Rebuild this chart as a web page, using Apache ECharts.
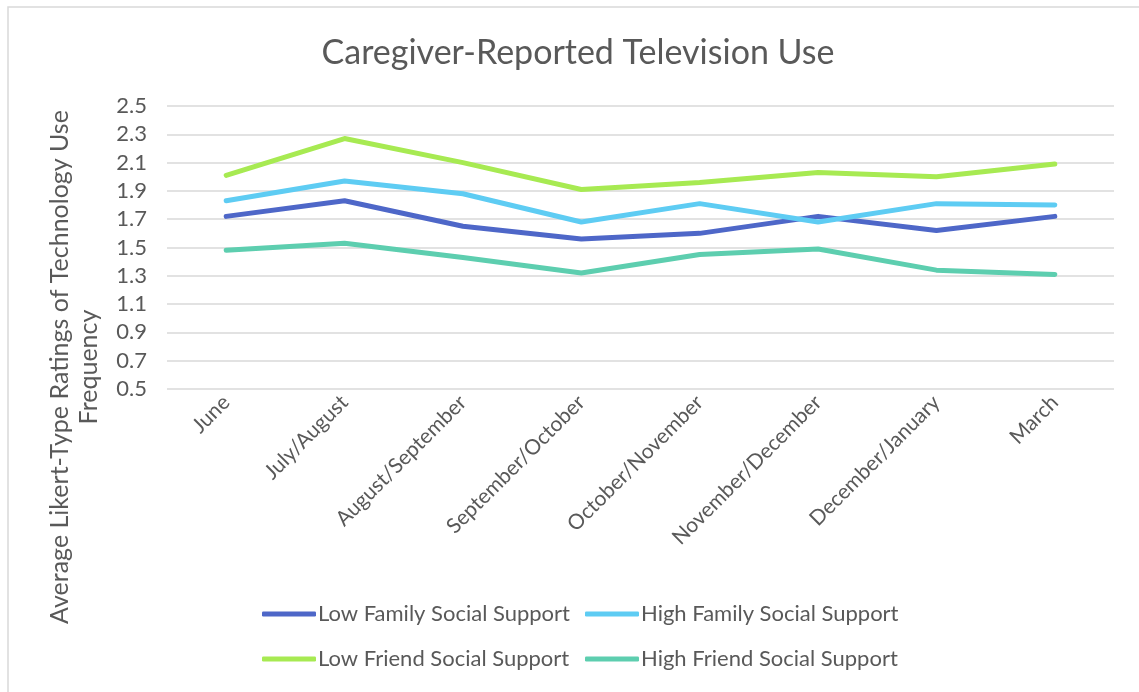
<!DOCTYPE html>
<html>
<head>
<meta charset="utf-8">
<script src="https://cdn.jsdelivr.net/npm/echarts@6/dist/echarts.min.js"></script>
<style>
  html, body { margin: 0; padding: 0; background: #ffffff; }
  #chart { width: 1139px; height: 692px; }
</style>
</head>
<body>
<div id="chart"></div>
<script>
// Survey waves along the x axis
const categories = [
  'June', 'July/August', 'August/September', 'September/October',
  'October/November', 'November/December', 'December/January', 'March'
];

// Average Likert-type ratings per support group
const lowFamily  = [1.72, 1.83, 1.65, 1.56, 1.60, 1.72, 1.62, 1.72];
const highFamily = [1.83, 1.97, 1.88, 1.68, 1.81, 1.68, 1.81, 1.80];
const lowFriend  = [2.01, 2.27, 2.10, 1.91, 1.96, 2.03, 2.00, 2.09];
const highFriend = [1.48, 1.53, 1.43, 1.32, 1.45, 1.49, 1.34, 1.31];

const seriesNames = [
  'Low Family Social Support', 'High Family Social Support',
  'Low Friend Social Support', 'High Friend Social Support'
];
const seriesData = [lowFamily, highFamily, lowFriend, highFriend];
const seriesColors = ['#4E67C8', '#5ECCF3', '#A7EA52', '#5DCEAF'];

// Value axis range and step
const yMin = 0.5;
const yMax = 2.5;
const yStep = 0.2;

const FONT = 'Lato, "Open Sans", sans-serif';
const TEXT = '#595959';

const chart = echarts.init(document.getElementById('chart'), null, { renderer: 'canvas' });

// Legend laid out as a 2 x 2 block under the plot
const legendSpots = [
  { left: 257, top: 598 },
  { left: 580, top: 598 },
  { left: 257, top: 643 },
  { left: 580, top: 643 }
];

const option = {
  backgroundColor: '#ffffff',
  animation: false,
  title: {
    text: 'Caregiver-Reported Television Use',
    left: 573,
    top: 31,
    textAlign: 'center',
    textStyle: { fontFamily: FONT, fontSize: 34, fontWeight: 'normal', color: TEXT }
  },
  grid: { left: 167, right: 25, top: 106, bottom: 303 },
  legend: seriesNames.map((name, i) => ({
    data: [name],
    left: legendSpots[i].left,
    top: legendSpots[i].top,
    orient: 'horizontal',
    icon: 'roundRect',
    itemWidth: 54,
    itemHeight: 5,
    itemGap: 0,
    selectedMode: false,
    textStyle: { fontFamily: FONT, fontSize: 22, color: TEXT, padding: [0, 0, 0, -3] }
  })),
  xAxis: {
    type: 'category',
    data: categories,
    boundaryGap: true,
    axisLine: { show: false },
    axisTick: { show: false },
    splitLine: { show: false },
    axisLabel: {
      interval: 0,
      rotate: 45,
      margin: 10,
      fontFamily: FONT,
      fontSize: 21,
      color: TEXT
    }
  },
  yAxis: {
    type: 'value',
    min: yMin,
    max: yMax,
    interval: yStep,
    axisLine: { show: false },
    axisTick: { show: false },
    splitLine: { lineStyle: { color: '#d9d9d9', width: 1.5 } },
    axisLabel: {
      margin: 20,
      fontFamily: FONT,
      fontSize: 22,
      color: TEXT,
      formatter: v => v.toFixed(1)
    }
  },
  graphic: [
    {
      type: 'rect',
      silent: true,
      shape: { x: 8, y: 7, width: 1400, height: 900 },
      style: { fill: 'none', stroke: '#d9d9d9', lineWidth: 1.5 }
    },
    {
      type: 'text',
      silent: true,
      x: 74,
      y: 367,
      rotation: Math.PI / 2,
      style: {
        text: 'Average Likert-Type Ratings of Technology Use\nFrequency',
        fontFamily: FONT,
        fontSize: 25,
        lineHeight: 29,
        fill: TEXT,
        align: 'center',
        verticalAlign: 'middle'
      }
    }
  ],
  series: seriesNames.map((name, i) => ({
    name: name,
    type: 'line',
    data: seriesData[i],
    showSymbol: false,
    symbol: 'none',
    smooth: false,
    itemStyle: { color: seriesColors[i] },
    lineStyle: { color: seriesColors[i], width: 5, cap: 'round', join: 'round' }
  }))
};

chart.setOption(option);
</script>
</body>
</html>
